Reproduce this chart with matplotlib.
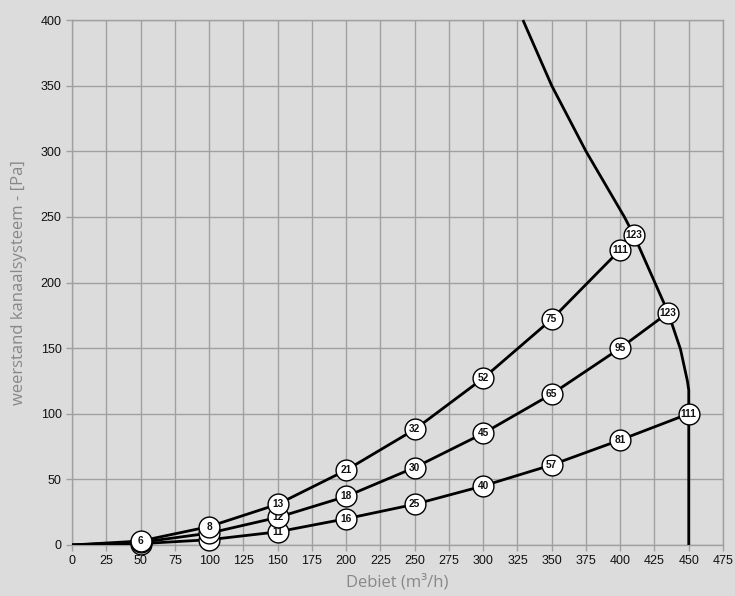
import matplotlib
matplotlib.use("Agg")
import matplotlib.pyplot as plt

# System curves (x = Debiet, y = weerstand) with circle labels
flow = [50, 100, 150, 200, 250, 300, 350, 400]
curve_a_y = [3, 14, 31, 57, 88, 127, 172, 225]
curve_a_lbl = ["6", "8", "13", "21", "32", "52", "75", "111"]
curve_a_end = (410, 236, "123")

curve_b_y = [2, 9, 21, 37, 59, 85, 115, 150]
curve_b_lbl = ["", "", "12", "18", "30", "45", "65", "95"]
curve_b_end = (435, 177, "123")

curve_c_y = [1, 4, 10, 20, 31, 45, 61, 80]
curve_c_lbl = ["", "", "11", "16", "25", "40", "57", "81"]
curve_c_end = (450, 100, "111")

# Fan curve
fan_x = [329, 350, 375, 403, 410, 435, 444, 449, 450, 450, 450]
fan_y = [400, 350, 300, 250, 236, 177, 149, 125, 118, 100, 0]

x_ticks = list(range(0, 476, 25))
y_ticks = list(range(0, 401, 50))

BG = "#dcdcdc"
GRID = "#a0a0a0"

fig = plt.figure(figsize=(7.35, 5.96), dpi=100, facecolor=BG)
ax = fig.add_axes([0.098, 0.0856, 0.8857, 0.8808])
ax.set_facecolor(BG)

ax.set_xlim(0, 475)
ax.set_ylim(0, 400)
ax.set_xticks(x_ticks)
ax.set_yticks(y_ticks)
ax.grid(True, color=GRID, linewidth=1.0)
ax.set_axisbelow(True)
for s in ax.spines.values():
    s.set_color(GRID)
    s.set_linewidth(1.0)
ax.tick_params(axis="both", colors=GRID, length=4, width=1.0, labelcolor="#111111",
               labelsize=9)
for lab in ax.get_xticklabels() + ax.get_yticklabels():
    lab.set_family("Liberation Sans")

ax.plot(fan_x, fan_y, color="black", lw=2.0, zorder=3, clip_on=False,
        solid_capstyle="butt")

def draw_curve(ys, end):
    xs = [0] + flow + [end[0]]
    yy = [0] + ys + [end[1]]
    ax.plot(xs, yy, color="black", lw=2.0, zorder=3, solid_capstyle="butt")

def draw_markers(ys, lbls, end, z):
    pts = list(zip(flow, ys, lbls)) + [end]
    for x, y, t in pts:
        ax.plot([x], [y], marker="o", ms=15, mfc="white", mec="black", mew=1.0,
                zorder=z, clip_on=False)
        if t:
            ax.text(x, y, t, ha="center", va="center", fontsize=7.3, fontweight="bold",
                    family="Liberation Sans", zorder=z + 0.1, color="#111111")

draw_curve(curve_c_y, curve_c_end)
draw_curve(curve_b_y, curve_b_end)
draw_curve(curve_a_y, curve_a_end)
draw_markers(curve_c_y, curve_c_lbl, curve_c_end, 4)
draw_markers(curve_b_y, curve_b_lbl, curve_b_end, 5)
draw_markers(curve_a_y, curve_a_lbl, curve_a_end, 6)

ax.set_xlabel("Debiet (m³/h)", fontsize=12, color="#888888", family="Open Sans",
              labelpad=5)
ax.set_ylabel("weerstand kanaalsysteem - [Pa]", fontsize=12, color="#888888",
              family="Open Sans", labelpad=10)

fig.savefig("out.png", dpi=100, facecolor=BG)
